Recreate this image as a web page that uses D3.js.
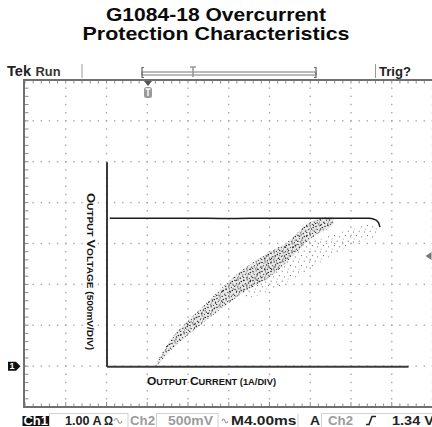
<!DOCTYPE html>
<html>
  <head>
    <meta charset="utf-8">
    <title>G1084-18 Overcurrent Protection Characteristics</title>
    <script src="https://d3js.org/d3.v7.min.js"></script>
    <style>
      body { margin: 0; background: #fff; }
      #chart { display: block; font-family: "Liberation Sans", Arial, sans-serif; }
      .title { font-size: 18.5px; font-weight: bold; fill: #0a0a0a; text-anchor: middle; }
      .frame { stroke: #707070; stroke-width: 2; fill: none; }
      .tick { stroke: #8c8c8c; stroke-width: 1; }
      .dot { fill: #a6a6a6; }
      .status { font-size: 12px; font-weight: bold; fill: #222; }
      .status.dim { fill: #9c9c9c; }
      .box { fill: none; stroke: #d0d0d0; stroke-width: 1; }
      .axis path { stroke: #3a3a3a; stroke-width: 2; }
      .label { font-weight: bold; fill: #151515; }
      .limit { fill: none; stroke: #1c1c1c; stroke-width: 1.5; }
    </style>
  </head>
  <body>
    <svg id="chart" width="432" height="427">
      <defs>
        <pattern id="stipple" width="9" height="9" patternUnits="userSpaceOnUse">
          <circle cx="1" cy="1.5" r="0.75" fill="#222"></circle>
          <circle cx="4.2" cy="0.8" r="0.6" fill="#333"></circle>
          <circle cx="7.3" cy="2.6" r="0.75" fill="#222"></circle>
          <circle cx="2.4" cy="4.6" r="0.6" fill="#444"></circle>
          <circle cx="5.5" cy="4.1" r="0.75" fill="#222"></circle>
          <circle cx="8.4" cy="6.2" r="0.6" fill="#333"></circle>
          <circle cx="0.6" cy="7.4" r="0.7" fill="#333"></circle>
          <circle cx="3.8" cy="7.9" r="0.6" fill="#222"></circle>
          <circle cx="6.4" cy="8.4" r="0.6" fill="#444"></circle>
          <circle cx="4.6" cy="5.9" r="0.5" fill="#555"></circle>
        </pattern>
        <pattern id="stipple2" width="7" height="11" patternUnits="userSpaceOnUse">
          <circle cx="2.1" cy="2.8" r="0.6" fill="#333"></circle>
          <circle cx="5.6" cy="5.3" r="0.7" fill="#222"></circle>
          <circle cx="1.2" cy="9.1" r="0.6" fill="#555"></circle>
          <circle cx="4.9" cy="10.2" r="0.5" fill="#444"></circle>
        </pattern>
        <pattern id="stippleSparse" width="11" height="10" patternUnits="userSpaceOnUse">
          <circle cx="1.5" cy="2" r="0.6" fill="#666"></circle>
          <circle cx="7.2" cy="1.2" r="0.6" fill="#777"></circle>
          <circle cx="4.4" cy="5.6" r="0.6" fill="#666"></circle>
          <circle cx="9.6" cy="6.8" r="0.6" fill="#777"></circle>
          <circle cx="2.2" cy="8.9" r="0.5" fill="#888"></circle>
        </pattern>
      </defs>
      <g id="header"></g>
      <g id="graticule"></g>
      <g id="plot"></g>
      <g id="statusBar"></g>
    </svg>
    <script>
      // title
      const titleLines = ["G1084-18 Overcurrent", "Protection Characteristics"];

      // output voltage (V) against output current (A)
      const limitLine = [
        [0.08, 1.81], [1.0, 1.81], [2.0, 1.81], [3.0, 1.805], [4.0, 1.81],
        [5.0, 1.81], [6.0, 1.81], [6.46, 1.81], [6.6, 1.79], [6.68, 1.75], [6.71, 1.70]
      ];
      // dense scatter band, upper and lower edges
      const denseUpper = [
        [1.21, 0.01], [1.63, 0.36], [2.45, 0.77], [3.27, 1.15], [4.08, 1.42],
        [4.4, 1.5], [5.06, 1.78], [5.55, 1.81]
      ];
      const denseLower = [
        [1.21, 0], [1.63, 0.22], [2.45, 0.56], [3.27, 0.87], [4.08, 1.12],
        [5.06, 1.58], [5.55, 1.73]
      ];
      // sparse scatter band below it
      const sparseUpper = [[3.4, 0.98], [4.25, 1.4], [5.06, 1.55], [5.88, 1.66], [6.62, 1.73]];
      const sparseLower = [[3.4, 0.84], [4.25, 0.98], [5.06, 1.21], [5.88, 1.45], [6.62, 1.6]];

      // axis labels
      const yLabelParts = ["O", "UTPUT ", "V", "OLTAGE ", "(500mV/DIV)"];
      const xLabelParts = ["O", "UTPUT ", "C", "URRENT ", "(1A/DIV)"];

      // scope readouts
      const statusTexts = ["Ch1", "1.00 A", "Ω", "Ch2", "500mV", "M4.00ms", "A", "Ch2", "1.34 V"];
      const headerTexts = ["Tek", "Run", "Trig?"];

      const svg = d3.select("#chart");
      const header = d3.select("#header");
      const graticule = d3.select("#graticule");
      const plot = d3.select("#plot");
      const statusBar = d3.select("#statusBar");

      // screen divisions: 10 across, 8 down
      const sx = d3.scaleLinear().domain([0, 10]).range([25, 432.5]);
      const sy = d3.scaleLinear().domain([0, 8]).range([80, 407]);

      // chart scales, 1 A per division, 500 mV per division
      const divW = sx(1) - sx(0);
      const x = d3.scaleLinear().domain([0, 7.4]).range([sx(2), sx(2) + 7.4 * divW]);
      const y = d3.scaleLinear().domain([0, 2.5]).range([sy(7), sy(2)]);

      // title
      svg.selectAll(".title")
        .data(titleLines)
        .enter()
        .append("text")
          .attr("class", "title")
          .attr("x", 216)
          .attr("y", function(d, i) { return i == 0 ? 20.5 : 40; })
          .attr("textLength", function(d, i) { return i == 0 ? 220 : 267; })
          .attr("lengthAdjust", "spacingAndGlyphs")
          .text(function(d) { return d; });

      // top bar of the scope
      header.append("text").attr("class", "status")
        .attr("x", 7).attr("y", 76).style("font-size", "14px")
        .attr("textLength", 24).attr("lengthAdjust", "spacingAndGlyphs")
        .text(headerTexts[0]);
      header.append("text").attr("class", "status")
        .attr("x", 35.5).attr("y", 75.5).style("fill", "#333")
        .attr("textLength", 25).attr("lengthAdjust", "spacingAndGlyphs")
        .text(headerTexts[1]);
      header.append("text").attr("class", "status")
        .attr("x", 379).attr("y", 76)
        .attr("textLength", 32).attr("lengthAdjust", "spacingAndGlyphs")
        .text(headerTexts[2]);
      header.selectAll(".sep")
        .data([82, 375.5])
        .enter()
        .append("line")
          .attr("x1", function(d) { return d; })
          .attr("x2", function(d) { return d; })
          .attr("y1", 64).attr("y2", 78)
          .attr("stroke", "#999");
      // record window bracket
      header.append("rect")
        .attr("x", 142).attr("y", 72).attr("width", 174).attr("height", 3)
        .attr("fill", "#fff").attr("stroke", "#777");
      header.append("path")
        .attr("d", "M144,67.5 H142 V77.5 H144 M314,67.5 H316 V77.5 H314")
        .attr("fill", "none").attr("stroke", "#666").attr("stroke-width", 1.2);
      header.append("path")
        .attr("d", "M190,67 H196 M193,67 V77")
        .attr("fill", "none").attr("stroke", "#999").attr("stroke-width", 1.6);

      // graticule dots every fifth of a division
      const fifths = d3.range(0, 40.5).map(function(d) { return d / 5; });
      const fifthsX = d3.range(0, 50.5).map(function(d) { return d / 5; });
      const dots = [];
      d3.range(1, 11).forEach(function(i) {
        fifths.forEach(function(f) { dots.push([i, f]); });
      });
      d3.range(1, 8).forEach(function(k) {
        fifthsX.forEach(function(f) { dots.push([f, k]); });
      });
      graticule.selectAll(".dot")
        .data(dots)
        .enter()
        .append("rect")
          .attr("class", "dot")
          .attr("x", function(d) { return sx(d[0]) - 0.7; })
          .attr("y", function(d) { return sy(d[1]) - 0.7; })
          .attr("width", 1.4)
          .attr("height", 1.4);

      // frame ticks
      graticule.selectAll(".topTick")
        .data(fifthsX)
        .enter()
        .append("line")
          .attr("class", "tick")
          .attr("x1", function(d) { return sx(d); })
          .attr("x2", function(d) { return sx(d); })
          .attr("y1", sy(0)).attr("y2", sy(0) + 3.5);
      graticule.selectAll(".bottomTick")
        .data(fifthsX)
        .enter()
        .append("line")
          .attr("class", "tick")
          .attr("x1", function(d) { return sx(d); })
          .attr("x2", function(d) { return sx(d); })
          .attr("y1", sy(8))
          .attr("y2", function(d) { return sy(8) - (d % 1 == 0 ? 5 : 3.5); });
      graticule.selectAll(".leftTick")
        .data(fifths)
        .enter()
        .append("line")
          .attr("class", "tick")
          .attr("x1", sx(0)).attr("x2", sx(0) + 3.5)
          .attr("y1", function(d) { return sy(d); })
          .attr("y2", function(d) { return sy(d); });
      graticule.append("path")
        .attr("class", "frame")
        .attr("d", "M432," + sy(0) + " H" + (sx(0) - 1) + " V" + sy(8) + " H432");

      // trigger position marker
      graticule.append("path")
        .attr("d", "M144," + (sy(0) + 1) + " H152 L148,86 Z")
        .attr("fill", "#555");
      graticule.append("rect")
        .attr("x", 144).attr("y", 87).attr("width", 8).attr("height", 11).attr("rx", 2.5)
        .attr("fill", "#9a9a9a");
      graticule.append("path")
        .attr("d", "M145.5,89 H150.5 M148,89 V96")
        .attr("stroke", "#fff").attr("stroke-width", 1.4);

      // channel 1 ground marker and trigger level marker
      graticule.append("path")
        .attr("d", "M8," + (sy(7) - 4.5) + " H16 L20.5," + sy(7) + " L16," + (sy(7) + 4.5) + " H8 Z")
        .attr("fill", "#111");
      graticule.append("text")
        .attr("x", 12).attr("y", sy(7) + 3.3)
        .attr("text-anchor", "middle")
        .style("font-size", "9px").style("font-weight", "bold").attr("fill", "#fff")
        .text("1");
      graticule.append("path")
        .attr("d", "M425.5,256 L431.5,252 V260 Z")
        .attr("fill", "#777");

      // chart axes
      const xAxis = d3.axisBottom(x).tickValues([]).tickSizeOuter(0);
      const yAxis = d3.axisLeft(y).tickValues([]).tickSizeOuter(0);
      plot.append("g")
        .attr("class", "axis")
        .attr("transform", "translate(0," + y(0) + ")")
        .call(xAxis);
      plot.append("g")
        .attr("class", "axis")
        .attr("transform", "translate(" + x(0) + ",0)")
        .call(yAxis);

      // scatter bands
      const band = d3.line()
        .x(function(d) { return x(d[0]); })
        .y(function(d) { return y(d[1]); })
        .curve(d3.curveCatmullRomClosed.alpha(0.5));
      const denseShape = band(denseUpper.concat(denseLower.slice().reverse()));
      plot.append("path")
        .attr("d", band(sparseUpper.concat(sparseLower.slice().reverse())))
        .attr("fill", "url(#stippleSparse)");
      plot.append("path")
        .attr("d", denseShape)
        .attr("fill", "#8a8a8a")
        .attr("fill-opacity", 0.18);
      plot.append("path")
        .attr("d", denseShape)
        .attr("fill", "url(#stipple)");
      plot.append("path")
        .attr("d", denseShape)
        .attr("fill", "url(#stipple2)");

      // output voltage limit line
      const line = d3.line()
        .x(function(d) { return x(d[0]); })
        .y(function(d) { return y(d[1]); })
        .curve(d3.curveMonotoneX);
      plot.append("path")
        .attr("class", "limit")
        .attr("d", line(limitLine));

      // axis labels in small caps
      const yLabel = plot.append("text")
        .attr("class", "label")
        .attr("transform", "translate(86.5,193) rotate(90)")
        .attr("textLength", 157)
        .attr("lengthAdjust", "spacingAndGlyphs");
      yLabel.selectAll("tspan")
        .data(yLabelParts)
        .enter()
        .append("tspan")
          .style("font-size", function(d, i) { return i == 0 || i == 2 ? "11px" : "8.5px"; })
          .text(function(d) { return d; });
      const xLabel = plot.append("text")
        .attr("class", "label")
        .attr("x", 147)
        .attr("y", 385)
        .attr("textLength", 129)
        .attr("lengthAdjust", "spacingAndGlyphs");
      xLabel.selectAll("tspan")
        .data(xLabelParts)
        .enter()
        .append("tspan")
          .style("font-size", function(d, i) { return i == 0 || i == 2 ? "11px" : "8.5px"; })
          .text(function(d) { return d; });

      // bottom readout bar
      statusBar.append("rect")
        .attr("x", 22.5).attr("y", 416).attr("width", 26.5).attr("height", 10)
        .attr("fill", "#111");
      statusBar.selectAll(".box")
        .data([[49.5, 128], [156.5, 218], [321.5, 440]])
        .enter()
        .append("rect")
          .attr("class", "box")
          .attr("x", function(d) { return d[0]; })
          .attr("y", 413.5)
          .attr("width", function(d) { return d[1] - d[0]; })
          .attr("height", 20);
      statusBar.append("line")
        .attr("x1", 298).attr("x2", 298).attr("y1", 413.5).attr("y2", 427)
        .attr("stroke", "#d0d0d0");
      // start, width, dimmed
      const statusLayout = [
        [23.5, 24.5, false], [65, 36.7, false], [104, 9, false], [130, 25, true],
        [168, 45, true], [231, 65.5, false], [310, 10, false], [328, 25, true], [392, 42, false]
      ];
      statusBar.selectAll(".status")
        .data(statusTexts)
        .enter()
        .append("text")
          .attr("class", function(d, i) { return statusLayout[i][2] ? "status dim" : "status"; })
          .attr("x", function(d, i) { return statusLayout[i][0]; })
          .attr("y", 424.5)
          .attr("textLength", function(d, i) { return statusLayout[i][1]; })
          .attr("lengthAdjust", "spacingAndGlyphs")
          .style("fill", function(d, i) { return i == 0 ? "#fff" : null; })
          .text(function(d) { return d; });
      // coupling and edge symbols
      statusBar.append("path")
        .attr("d", "M114,421 q2,-5 4,0 t4,0 M222,421 q1.5,-4 3,0 t3,0")
        .attr("fill", "none").attr("stroke", "#999").attr("stroke-width", 1.1);
      statusBar.append("path")
        .attr("d", "M366,424.5 H369 L372,416.5 H376")
        .attr("fill", "none").attr("stroke", "#222").attr("stroke-width", 1.6);
    </script>
  </body>
</html>
